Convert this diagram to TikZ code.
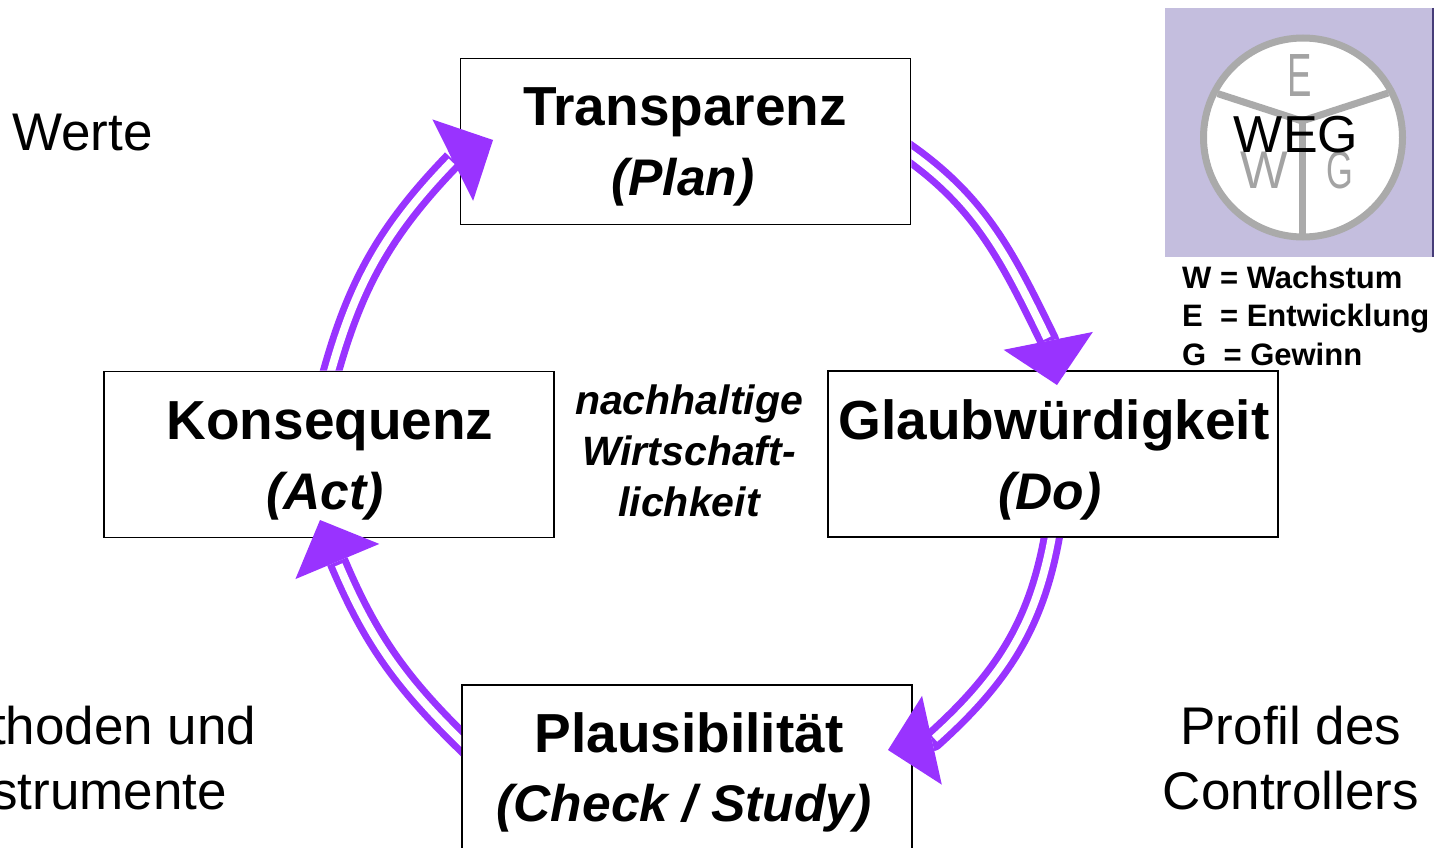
\documentclass[tikz,border=0pt]{standalone}
\usepackage{fontspec}
\usepackage{graphicx}
\setmainfont{Liberation Sans}
\usetikzlibrary{arrows.meta,calc}
\definecolor{arrowpurple}{RGB}{153,51,255}
\definecolor{wegbg}{RGB}{196,190,222}
\definecolor{weggray}{RGB}{170,170,170}
\definecolor{wegletter}{RGB}{163,163,163}
\definecolor{wegedge}{RGB}{70,60,120}
\tikzset{
  phasebox/.style={draw=black, line width=1.8pt, fill=white, minimum width=450pt, minimum height=166pt, inner sep=0pt},
  titletext/.style={font=\fontsize{55}{66}\selectfont\bfseries, anchor=base, inner sep=0pt},
  subtext/.style={font=\fontsize{51.5}{60}\selectfont\bfseries\itshape, anchor=base, inner sep=0pt},
  sidetext/.style={font=\fontsize{53}{65}\selectfont, align=center, inner sep=0pt},
  midtext/.style={font=\fontsize{41}{51}\selectfont\bfseries\itshape, align=center, inner sep=0pt},
  legendtext/.style={font=\fontsize{31}{38.5}\selectfont\bfseries, align=left, anchor=north west, inner sep=0pt},
  cycleouter/.style={draw=arrowpurple, line width=22pt, line join=round, -{Triangle[width=91pt,length=45pt,line width=0pt]}},
  cycleinner/.style={draw=white, line width=8pt, shorten >=2pt},
  spoke/.style={draw=weggray, line width=7pt},
  wegchar/.style={text=wegletter, anchor=base, inner sep=0pt},
}
\begin{document}
\begin{tikzpicture}[x=1pt,y=1pt]
\useasboundingbox (0,0) rectangle (1445,-848);
\clip (0,0) rectangle (1445,-848);
\fill[white] (0,0) rectangle (1445,-848);

% phase boxes
\node[phasebox] (plan) at (685.5,-141.5) {};
\node[phasebox] (act) at (329,-454.5) {};
\node[phasebox] (do) at (1053,-454) {};
\node[phasebox] (check) at (687,-768) {};

\node[titletext] (planT) at (685,-126) {Transparenz};
\node[subtext] (planS) at (683,-195) {(Plan)};
\node[titletext] (actT) at (330,-439) {Konsequenz};
\node[subtext] (actS) at (325,-509) {(Act)};
\node[titletext] (doT) at (1054,-439) {Glaubwürdigkeit};
\node[subtext] (doS) at (1050,-509) {(Do)};
\node[titletext] (checkT) at (689,-752) {Plausibilität};
\node[subtext] (checkS) at (684,-821) {(Check / Study)};

% centre text
\node[midtext] (mid) at (689,-451.3) {nachhaltige\\Wirtschaft-\\lichkeit};

% side texts
\node[font=\fontsize{53}{65}\selectfont, anchor=base west, inner sep=0pt] (werte) at (12,-150) {Werte};
\node[sidetext] (methoden) at (87,-758) {Methoden und\\Instrumente};
\node[sidetext] (profil) at (1291,-758) {Profil des\\Controllers};

% WEG logo
\fill[wegbg] (1165,-8) rectangle (1433,-257);
\draw[wegedge, line width=1.5pt] (1433,-8) -- (1433,-257);
\node[circle, draw=weggray, line width=7pt, fill=white, minimum size=199pt, inner sep=0pt] (wegcircle) at (1303,-137.5) {};
\coordinate (wegj) at (1302,-121);
\coordinate (wegl) at (1217.6,-93.6);
\coordinate (wegr) at (1388.1,-93);
\coordinate (wegb) at (1302,-233.5);
\draw[spoke] (wegl) -- (wegj) -- (wegr);
\draw[spoke] (wegj) -- (wegb);
\node[wegchar, font=\fontsize{61}{61}\selectfont] (wegE) at (1300,-97) {\scalebox{0.6}[1]{E}};
\node[wegchar, font=\fontsize{53}{53}\selectfont] (wegW) at (1264,-188) {\scalebox{0.95}[1]{W}};
\node[wegchar, font=\fontsize{53}{53}\selectfont] (wegG) at (1340,-188) {\scalebox{0.65}[1]{G}};
\node[font=\fontsize{52}{52}\selectfont, anchor=base, inner sep=0pt] (wegtext) at (1296,-152) {WEG};

\node[legendtext] (legend) at (1182,-265.4) {W = Wachstum\\E\ \ = Entwicklung\\G\ \ = Gewinn};

% arrow points: start (inside source box), shaft end, tip
\coordinate (a1s) at (900.1,-146.3);
\coordinate (m1) at (1048,-340);
\coordinate (t1) at (1057,-385);
\coordinate (a2s) at (1053.9,-525.1);
\coordinate (m2) at (933,-740);
\coordinate (t2) at (888,-750);
\coordinate (a3s) at (470.6,-750.3);
\coordinate (m3) at (338,-563);
\coordinate (t3) at (320,-520);
\coordinate (a4s) at (327.9,-382.6);
\coordinate (m4) at (453,-160);
\coordinate (t4) at (493,-140);

% cycle arrows
\begin{scope}
\clip (0,0) rectangle (1445,-848) (plan.north east) rectangle (plan.south west);
\draw[cycleouter] (a1s) to[out=-34,in=116] (m1) -- (t1);
\draw[cycleinner] (a1s) to[out=-34,in=116] (m1);
\end{scope}
\begin{scope}
\clip (0,0) rectangle (1445,-848) (do.north east) rectangle (do.south west);
\draw[cycleouter] (a2s) to[out=-99,in=42] (m2) -- (t2);
\draw[cycleinner] (a2s) to[out=-99,in=42] (m2);
\end{scope}
\begin{scope}
\clip (0,0) rectangle (1445,-848) (check.north east) rectangle (check.south west);
\draw[cycleouter] (a3s) to[out=136,in=-67] (m3) -- (t3);
\draw[cycleinner] (a3s) to[out=136,in=-67] (m3);
\end{scope}
\begin{scope}
\clip (0,0) rectangle (1445,-848) (act.north east) rectangle (act.south west);
\draw[cycleouter] (a4s) to[out=75,in=226] (m4) -- (t4);
\draw[cycleinner] (a4s) to[out=75,in=226] (m4);
\end{scope}
\end{tikzpicture}
\end{document}
